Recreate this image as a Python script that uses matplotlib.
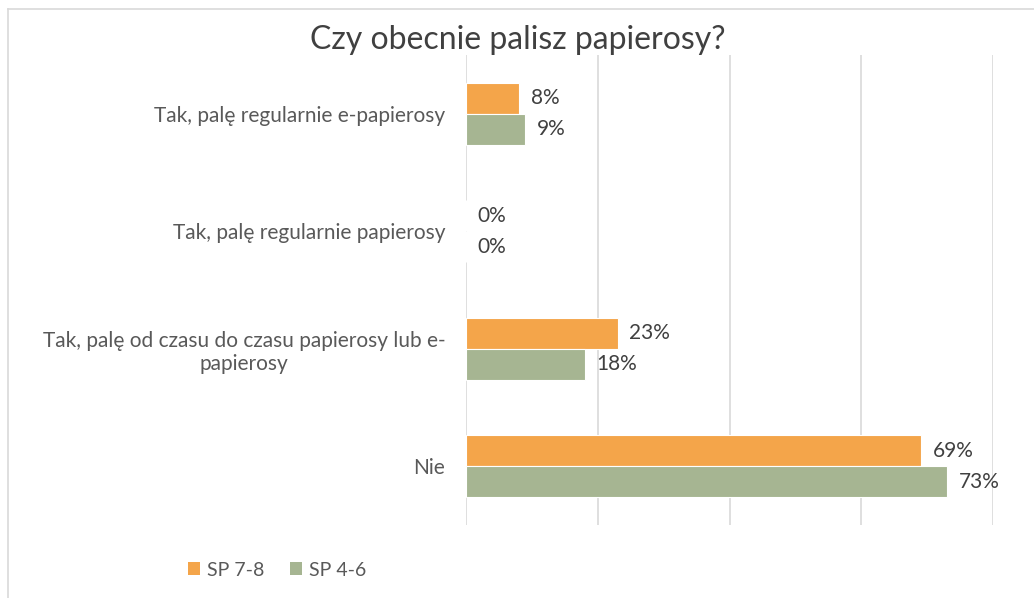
import matplotlib
matplotlib.use('Agg')
from matplotlib import pyplot as plt
from matplotlib.lines import Line2D
from matplotlib.patches import Patch
import numpy as np

# --- dane ---
kategorie = [
    'Tak, palę regularnie e-papierosy',
    'Tak, palę regularnie papierosy',
    'Tak, palę od czasu do czasu papierosy lub e-\npapierosy',
    'Nie',
]
sp78 = [8, 0, 23, 69]    # SP 7-8 [%]
sp46 = [9, 0, 18, 73]    # SP 4-6 [%]
serie = ['SP 7-8', 'SP 4-6']
kolory = ['#F4A54A', '#A6B592']
tytul = 'Czy obecnie palisz papierosy?'

plt.rcParams['font.family'] = ['Lato', 'DejaVu Sans']

fig = plt.figure(figsize=(10.34, 5.98), dpi=100)
ax = fig.add_axes([466 / 1034, 1 - 525 / 598, (993 - 466) / 1034, 470 / 598])

y = np.arange(len(kategorie))
h = 0.264

b1 = ax.barh(y - h / 2, sp78, height=h, color=kolory[0], edgecolor='white', lw=0.8)
b2 = ax.barh(y + h / 2, sp46, height=h, color=kolory[1], edgecolor='white', lw=0.8)

# etykiety wartości
for bars, vals in ((b1, sp78), (b2, sp46)):
    for b, v in zip(bars, vals):
        ax.text(v + 1.8, b.get_y() + b.get_height() / 2, f'{v}%',
                va='center', ha='left', fontsize=15, color='#404040')

ax.set_xlim(0, 80)
ax.set_ylim(len(kategorie) - 0.5, -0.5)
ax.set_xticks([0, 20, 40, 60, 80])
ax.set_xticklabels([])
ax.tick_params(axis='x', length=0)
ax.grid(axis='x', color='#d9d9d9', lw=1.2)
ax.set_axisbelow(True)

ax.set_yticks(y)
ax.set_yticklabels(kategorie, fontsize=15, color='#595959', multialignment='center')
ax.tick_params(axis='y', length=0, pad=15)
for s in ax.spines.values():
    s.set_visible(False)

fig.text(518 / 1034, 1 - 40 / 598, tytul, ha='center', va='center',
         fontsize=23, color='#404040')

# legenda
uchwyty = [Patch(facecolor=c, edgecolor='none') for c in kolory]
fig.legend(uchwyty, serie, loc='center left',
           bbox_to_anchor=(170 / 1034, 1 - 570 / 598), ncol=2, frameon=False,
           fontsize=14, handlelength=0.65, handleheight=0.65,
           handletextpad=0.35, columnspacing=1.3, labelcolor='#595959')

# ramka wykresu
fig.add_artist(Line2D([8 / 1034, 1], [1 - 9 / 598, 1 - 9 / 598], color='#d9d9d9', lw=1.2))
fig.add_artist(Line2D([8 / 1034, 8 / 1034], [0, 1 - 9 / 598], color='#d9d9d9', lw=1.2))

fig.savefig('out.png', dpi=100, facecolor='white')
plt.close()
